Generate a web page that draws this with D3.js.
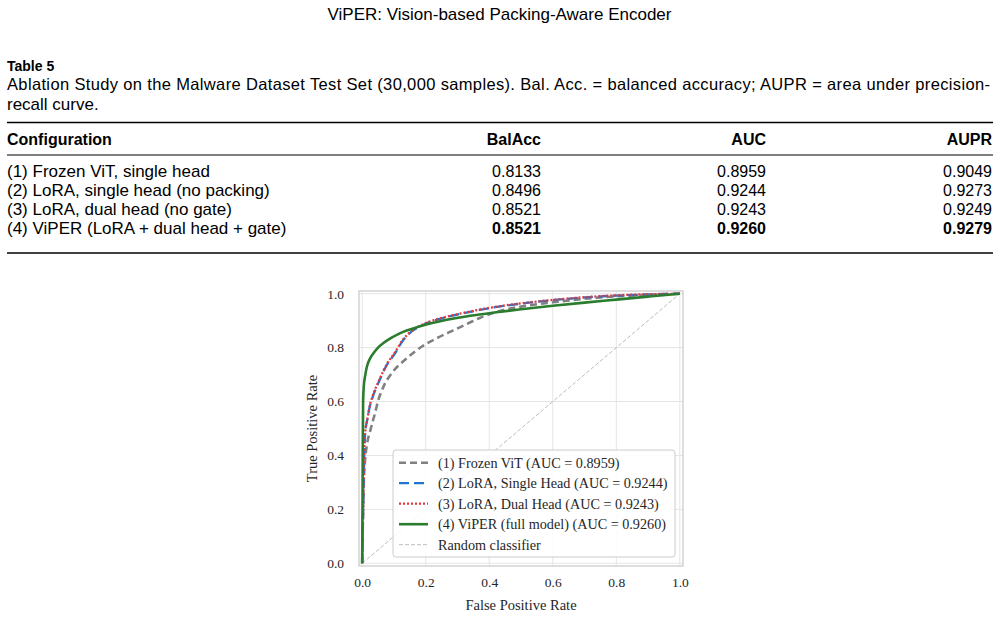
<!DOCTYPE html>
<html>
<head>
<meta charset="utf-8">
<script src="https://cdn.jsdelivr.net/npm/d3@7"></script>
<style>
  body { margin: 0; background: #fff; }
  svg { display: block; }
</style>
</head>
<body>
<div id="page"></div>
<script>
var width = 999;
var height = 617;

// table values
var configs = ["(1) Frozen ViT, single head", "(2) LoRA, single head (no packing)", "(3) LoRA, dual head (no gate)", "(4) ViPER (LoRA + dual head + gate)"];
var balAcc = ["0.8133", "0.8496", "0.8521", "0.8521"];
var aucCol = ["0.8959", "0.9244", "0.9243", "0.9260"];
var auprCol = ["0.9049", "0.9273", "0.9249", "0.9279"];
var columns = ["Configuration", "BalAcc", "AUC", "AUPR"];

// ROC curves
var fprFrozen = [0, 0.002, 0.005, 0.009, 0.015, 0.025, 0.04, 0.051, 0.067, 0.093, 0.135, 0.188, 0.235, 0.287, 0.33, 0.37, 0.43, 0.5, 0.6, 0.7, 0.8, 0.9, 1];
var tprFrozen = [0, 0.15, 0.3, 0.38, 0.44, 0.49, 0.555, 0.606, 0.655, 0.705, 0.755, 0.804, 0.835, 0.864, 0.888, 0.91, 0.935, 0.952, 0.968, 0.981, 0.99, 0.996, 1];

var fprSingle = [0, 0.002, 0.004, 0.006, 0.009, 0.017, 0.025, 0.03, 0.055, 0.075, 0.104, 0.13, 0.156, 0.193, 0.256, 0.32, 0.37, 0.43, 0.5, 0.6, 0.7, 0.8, 0.9, 1];
var tprSingle = [0, 0.12, 0.25, 0.38, 0.476, 0.538, 0.587, 0.606, 0.68, 0.73, 0.78, 0.829, 0.86, 0.885, 0.91, 0.928, 0.94, 0.952, 0.963, 0.976, 0.986, 0.993, 0.997, 1];

var fprDual = [0, 0.002, 0.004, 0.006, 0.009, 0.017, 0.025, 0.03, 0.055, 0.075, 0.104, 0.13, 0.156, 0.193, 0.256, 0.32, 0.37, 0.43, 0.5, 0.6, 0.7, 0.8, 0.9, 1];
var tprDual = [0, 0.12, 0.26, 0.39, 0.48, 0.54, 0.59, 0.61, 0.683, 0.733, 0.784, 0.832, 0.862, 0.887, 0.912, 0.929, 0.941, 0.953, 0.964, 0.977, 0.987, 0.994, 0.998, 1];

var fprViper = [0, 0.001, 0.002, 0.003, 0.005, 0.01, 0.015, 0.025, 0.036, 0.05, 0.067, 0.09, 0.12, 0.18, 0.266, 0.34, 0.43, 0.5, 0.6, 0.7, 0.8, 0.9, 1];
var tprViper = [0, 0.2, 0.45, 0.6, 0.655, 0.7, 0.73, 0.76, 0.78, 0.8, 0.817, 0.835, 0.854, 0.878, 0.903, 0.918, 0.932, 0.942, 0.955, 0.967, 0.978, 0.989, 1];

var legendLabels = ["(1) Frozen ViT (AUC = 0.8959)", "(2) LoRA, Single Head (AUC = 0.9244)", "(3) LoRA, Dual Head (AUC = 0.9243)", "(4) ViPER (full model) (AUC = 0.9260)", "Random classifier"];
var ticks = [0, 0.2, 0.4, 0.6, 0.8, 1.0];

var series = [
	{ fpr: fprFrozen, tpr: tprFrozen, color: "#808080", width: 2.6, dash: "7,4" },
	{ fpr: fprSingle, tpr: tprSingle, color: "#1f77d0", width: 2.3, dash: "10,5" },
	{ fpr: fprDual, tpr: tprDual, color: "#e8373a", width: 2.3, dash: "2,2" },
	{ fpr: fprViper, tpr: tprViper, color: "#2a7d2e", width: 2.6, dash: null },
	{ fpr: [0, 1], tpr: [0, 1], color: "#bdbdbd", width: 1, dash: "4,2" }
];

var svg = d3.select("#page")
	.append("svg")
	.attr("width", width)
	.attr("height", height);

var sans = "'Liberation Sans', Arial, sans-serif";
var serif = "'Liberation Serif', 'Times New Roman', serif";

// page header
svg.append("text")
	.attr("x", 499.5).attr("y", 20)
	.attr("text-anchor", "middle")
	.style("font-family", sans).style("font-size", "17px")
	.text("ViPER: Vision-based Packing-Aware Encoder");

// table caption
svg.append("text")
	.attr("x", 7).attr("y", 71)
	.style("font-family", sans).style("font-size", "14px").style("font-weight", "bold")
	.text("Table 5");
svg.append("text")
	.attr("x", 7).attr("y", 90)
	.attr("textLength", 983).attr("lengthAdjust", "spacing")
	.style("font-family", sans).style("font-size", "16.5px")
	.text("Ablation Study on the Malware Dataset Test Set (30,000 samples). Bal. Acc. = balanced accuracy; AUPR = area under precision-");
svg.append("text")
	.attr("x", 7).attr("y", 110)
	.style("font-family", sans).style("font-size", "17px")
	.text("recall curve.");

// table rules
var rules = [{ y: 122.5, w: 1.6 }, { y: 155, w: 1 }, { y: 253, w: 1.6 }];
svg.selectAll("line.rule")
	.data(rules)
	.enter()
	.append("line")
	.attr("class", "rule")
	.attr("x1", 7).attr("x2", 993)
	.attr("y1", d => d.y).attr("y2", d => d.y)
	.attr("stroke", "#000")
	.attr("stroke-width", d => d.w);

var colX = [7, 541, 766, 992];
svg.selectAll("text.head")
	.data(columns)
	.enter()
	.append("text")
	.attr("class", "head")
	.attr("x", (d, i) => colX[i])
	.attr("y", 145)
	.attr("text-anchor", (d, i) => i == 0 ? "start" : "end")
	.style("font-family", sans).style("font-size", "16px").style("font-weight", "bold")
	.text(d => d);

var rowY = d3.scaleLinear().domain([0, 3]).range([177, 234]);
configs.forEach(function (c, r) {
	var cells = [c, balAcc[r], aucCol[r], auprCol[r]];
	cells.forEach(function (v, i) {
		svg.append("text")
			.attr("x", colX[i])
			.attr("y", rowY(r))
			.attr("text-anchor", i == 0 ? "start" : "end")
			.style("font-family", sans).style("font-size", i == 0 ? "17px" : "16px")
			.style("font-weight", (r == 3 && i > 0) ? "bold" : "normal")
			.text(v);
	});
});

// ROC chart
var x = d3.scaleLinear().domain([-0.01, 1.01]).range([359, 683]);
var y = d3.scaleLinear().domain([-0.01, 1.01]).range([566, 291]);

var chart = svg.append("g");

chart.append("g")
	.selectAll("line")
	.data(ticks)
	.enter()
	.append("line")
	.attr("x1", d => x(d)).attr("x2", d => x(d))
	.attr("y1", y.range()[0]).attr("y2", y.range()[1])
	.attr("stroke", "#e5e5e5").attr("stroke-width", 1);

chart.append("g")
	.selectAll("line")
	.data(ticks)
	.enter()
	.append("line")
	.attr("y1", d => y(d)).attr("y2", d => y(d))
	.attr("x1", x.range()[0]).attr("x2", x.range()[1])
	.attr("stroke", "#e5e5e5").attr("stroke-width", 1);

var xAxis = chart.append("g")
	.attr("transform", "translate(0," + y.range()[0] + ")")
	.call(d3.axisBottom(x).tickValues(ticks).tickFormat(d3.format(".1f")).tickSize(0).tickPadding(11));
var yAxis = chart.append("g")
	.attr("transform", "translate(" + x.range()[0] + ",0)")
	.call(d3.axisLeft(y).tickValues(ticks).tickFormat(d3.format(".1f")).tickSize(0).tickPadding(15));
[xAxis, yAxis].forEach(function (a) {
	a.select(".domain").remove();
	a.selectAll("text")
		.style("font-family", serif).style("font-size", "13.5px").attr("fill", "#262626");
});

svg.append("clipPath").attr("id", "clip")
	.append("rect")
	.attr("x", 359).attr("y", 291).attr("width", 324).attr("height", 275);

var line = d3.line()
	.x(d => x(d[0]))
	.y(d => y(d[1]))
	.curve(d3.curveMonotoneX);

// random classifier first, then the models
var drawOrder = [4, 0, 1, 2, 3];
drawOrder.forEach(function (k) {
	var s = series[k];
	chart.append("path")
		.attr("clip-path", "url(#clip)")
		.attr("d", line(s.fpr.map((f, i) => [f, s.tpr[i]])))
		.attr("fill", "none")
		.attr("stroke", s.color)
		.attr("stroke-width", s.width)
		.attr("stroke-dasharray", s.dash);
});

chart.append("rect")
	.attr("x", 359).attr("y", 291).attr("width", 324).attr("height", 275)
	.attr("fill", "none").attr("stroke", "#cccccc").attr("stroke-width", 1.3);

svg.append("text")
	.attr("x", x(0.5)).attr("y", 610)
	.attr("text-anchor", "middle")
	.style("font-family", serif).style("font-size", "14.5px").attr("fill", "#262626")
	.text("False Positive Rate");
svg.append("text")
	.attr("transform", "translate(317," + y(0.5) + ") rotate(-90)")
	.attr("text-anchor", "middle")
	.style("font-family", serif).style("font-size", "14.5px").attr("fill", "#262626")
	.text("True Positive Rate");

// legend
var legend = svg.append("g").attr("transform", "translate(393,450)");
legend.append("rect")
	.attr("width", 282).attr("height", 107).attr("rx", 3)
	.attr("fill", "#fff").attr("fill-opacity", 0.85)
	.attr("stroke", "#cccccc").attr("stroke-width", 1);
legendLabels.forEach(function (lab, i) {
	var s = series[i];
	var ly = 12.7 + i * 20.5;
	legend.append("line")
		.attr("x1", 6).attr("x2", 35)
		.attr("y1", ly).attr("y2", ly)
		.attr("stroke", s.color)
		.attr("stroke-width", s.width)
		.attr("stroke-dasharray", s.dash);
	legend.append("text")
		.attr("x", 45).attr("y", ly + 5)
		.style("font-family", serif).style("font-size", "14.2px").attr("fill", "#262626")
		.text(lab);
});
</script>
</body>
</html>
